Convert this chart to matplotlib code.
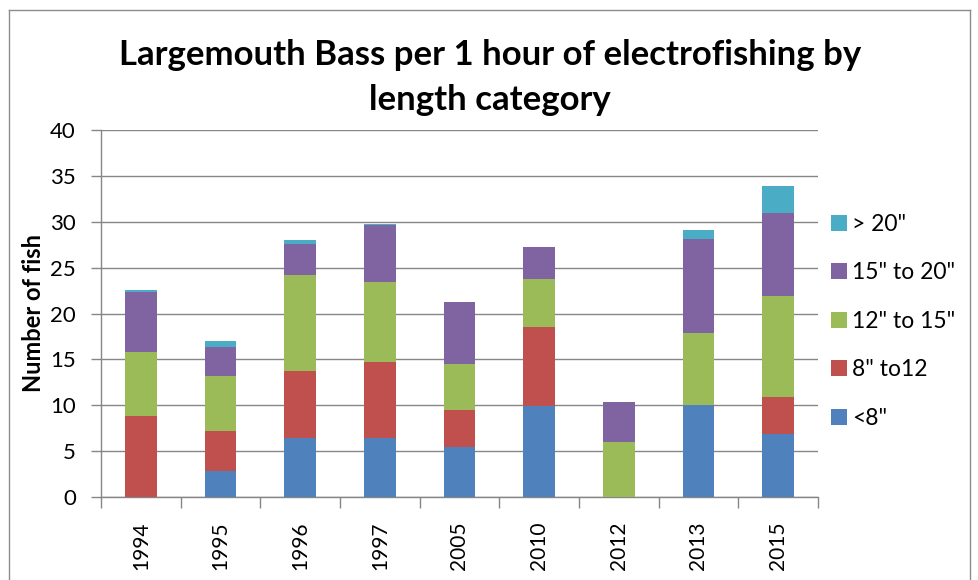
import numpy as np
import matplotlib
matplotlib.use("Agg")
import matplotlib.pyplot as plt
from matplotlib.lines import Line2D

plt.rcParams['font.family'] = ['Lato', 'DejaVu Sans']

years = ["1994", "1995", "1996", "1997", "2005", "2010", "2012", "2013", "2015"]
under_8 = [0.0, 2.8, 6.4, 6.4, 5.5, 9.9, 0.0, 10.0, 6.9]
from_8_to_12 = [8.8, 4.4, 7.3, 8.3, 4.0, 8.6, 0.0, 0.0, 4.0]
from_12_to_15 = [7.0, 6.0, 10.5, 8.7, 5.0, 5.3, 6.0, 7.9, 11.0]
from_15_to_20 = [6.5, 3.2, 3.4, 6.3, 6.7, 3.4, 4.4, 10.2, 9.0]
over_20 = [0.3, 0.6, 0.4, 0.1, 0.0, 0.0, 0.0, 1.0, 3.0]

series = [under_8, from_8_to_12, from_12_to_15, from_15_to_20, over_20]
labels = ['<8"', '8" to12', '12" to 15"', '15" to 20"', '> 20"']
colors = ["#4F81BD", "#C0504D", "#9BBB59", "#8064A2", "#4BACC6"]

W, H = 979, 580
fig = plt.figure(figsize=(W / 100, H / 100), dpi=100)
ax = fig.add_axes([101 / W, 1 - 497 / H, (818 - 101) / W, (497 - 130) / H])

x = np.arange(len(years))
bottom = np.zeros(len(years))
handles = []
for vals, lab, col in zip(series, labels, colors):
    b = ax.bar(x, vals, width=0.4, bottom=bottom, color=col, label=lab, zorder=3)
    handles.append(b)
    bottom += np.array(vals)

grid_col = "#868686"
ax.set_ylim(0, 40)
ax.set_xlim(-0.5, len(years) - 0.5)
ax.set_yticks(range(0, 41, 5))
ax.yaxis.grid(True, color=grid_col, linewidth=1, zorder=0)
for s in ["top", "right"]:
    ax.spines[s].set_visible(False)
for s in ["left", "bottom"]:
    ax.spines[s].set_color(grid_col)
    ax.spines[s].set_linewidth(1)

ax.set_xticks(x)
ax.set_xticklabels(years, rotation=90, fontsize=15)
ax.set_xticks(np.arange(-0.5, len(years)), minor=True)
ax.tick_params(axis="x", which="major", length=0, pad=18)
ax.tick_params(axis="x", which="minor", length=8, color=grid_col, width=1)
ax.tick_params(axis="y", length=7, color=grid_col, width=1, pad=11, labelsize=16)

ax.set_ylabel("Number of fish", fontsize=17, fontweight="bold", labelpad=4)

fig.text(490 / W, 1 - 55 / H, "Largemouth Bass per 1 hour of electrofishing by",
         ha="center", va="center", fontsize=25, fontweight="bold")
fig.text(490 / W, 1 - 100 / H, "length category",
         ha="center", va="center", fontsize=25, fontweight="bold")

leg = fig.legend(handles[::-1], labels[::-1], loc="upper left",
                 bbox_to_anchor=(810 / W, 1 - 193 / H), frameon=False,
                 fontsize=16.5, handlelength=0.7, handleheight=0.7,
                 handletextpad=0.25, labelspacing=1.2)

# outer chart frame
fc = "#8c8c8c"
fig.add_artist(Line2D([9 / W, 9 / W], [0, 1 - 10 / H], color=fc, lw=1, transform=fig.transFigure))
fig.add_artist(Line2D([9 / W, 970 / W], [1 - 10 / H, 1 - 10 / H], color=fc, lw=1, transform=fig.transFigure))
fig.add_artist(Line2D([970 / W, 970 / W], [0, 1 - 10 / H], color=fc, lw=1, transform=fig.transFigure))

fig.savefig("out.png", dpi=100)
